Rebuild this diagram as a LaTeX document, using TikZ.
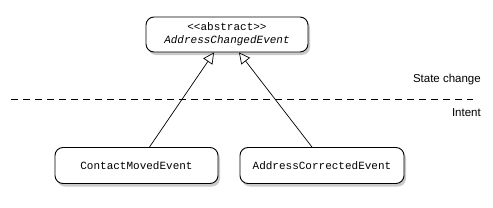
\documentclass[tikz,border=0pt]{standalone}
\usepackage{fontspec}
\setmainfont{Liberation Sans}
\newfontfamily\umlmono{Liberation Mono}
\usetikzlibrary{shadows,arrows.meta,positioning}
\begin{document}
\begin{tikzpicture}[x=1pt,y=1pt,
  cls/.style={draw=black, line width=0.9pt, rounded corners=8pt, fill=white,
    drop shadow={shadow xshift=2pt, shadow yshift=-3pt, opacity=0.35, fill=black!60},
    font=\umlmono\fontsize{11}{13}\selectfont, align=center, inner sep=0pt},
  gen/.style={draw=black, line width=0.7pt, -{Triangle[open,length=11pt,width=11pt,fill=white]}},
  lbl/.style={font=\fontsize{11.5}{13}\selectfont, anchor=east, inner sep=0pt}
]
\useasboundingbox (0,0) rectangle (493,207);
\node[cls, minimum width=162pt, minimum height=35pt] (t) at (227,172.5)
  {<<abstract>>\\[0pt]\itshape AddressChangedEvent};
\node[cls, minimum width=163pt, minimum height=36pt] (l) at (136.5,41.5) {ContactMovedEvent};
\node[cls, minimum width=164pt, minimum height=36pt] (r) at (322,41.5) {AddressCorrectedEvent};
\coordinate (d1) at (11,108);
\coordinate (d2) at (473,108);
\draw[line width=0.7pt, dash pattern=on 7pt off 5pt] (d1) -- (d2);
\node[lbl] (sc) at (481,127) {State change};
\node[lbl] (in) at (481,94) {Intent};
\draw[gen] ([xshift=13pt]l.north) -- ([xshift=-13pt]t.south);
\draw[gen] ([xshift=-10pt]r.north) -- ([xshift=12pt]t.south);
\end{tikzpicture}
\end{document}
